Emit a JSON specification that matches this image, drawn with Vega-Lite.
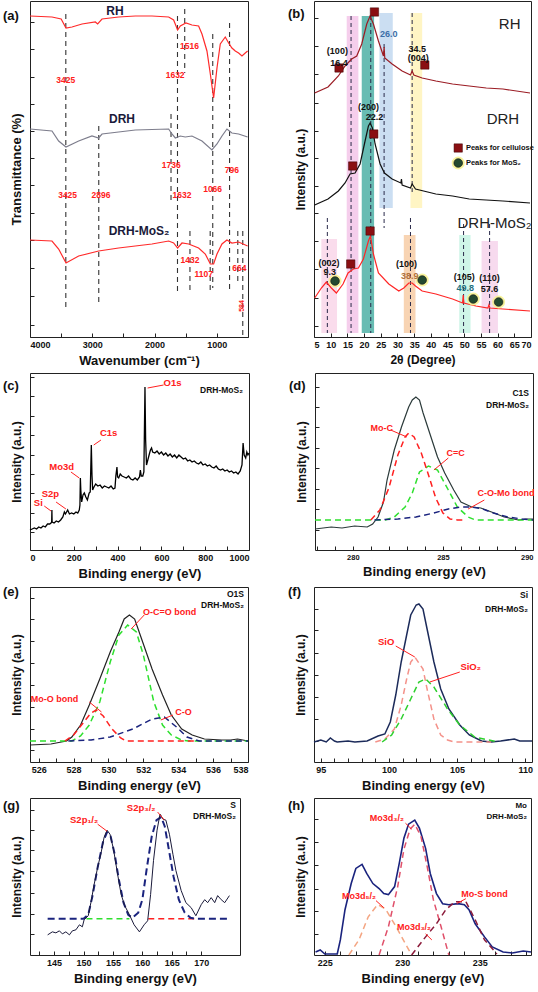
{
"$schema":"https://vega.github.io/schema/vega-lite/v6.json",
"padding":{"left":2,"top":0,"right":0,"bottom":0},
"background":"white",
"config":{
 "font":"Liberation Sans",
 "view":{"stroke":"#222","strokeWidth":1},
 "axis":{"grid":false,"domain":false,"tickSize":-4,"tickColor":"#222","labelFont":"Liberation Sans","labelFontWeight":"bold","labelFontSize":9,"labelColor":"#111","titleFont":"Liberation Sans","titleFontWeight":"bold","titleFontSize":13,"titleColor":"#111","labelPadding":7,"titlePadding":5},
 "axisY":{"labels":false,"titlePadding":6,"titleFontSize":12},
 "title":{"font":"Liberation Sans","fontWeight":"bold","fontSize":13,"anchor":"start","frame":"group","color":"#111"}
},
"datasets":{
 "a_ln":[
  {"x":4000,"y":321,"s":"RH"},{"x":3647,"y":320,"s":"RH"},{"x":3500,"y":318,"s":"RH"},{"x":3422,"y":309,"s":"RH"},{"x":3326,"y":310,"s":"RH"},{"x":3165,"y":313,"s":"RH"},{"x":2951,"y":315,"s":"RH"},{"x":2914,"y":313,"s":"RH"},{"x":2844,"y":318,"s":"RH"},{"x":2577,"y":320,"s":"RH"},{"x":2309,"y":321,"s":"RH"},{"x":2042,"y":321,"s":"RH"},{"x":1774,"y":320,"s":"RH"},{"x":1694,"y":317,"s":"RH"},{"x":1630,"y":307,"s":"RH"},{"x":1587,"y":311,"s":"RH"},{"x":1496,"y":314,"s":"RH"},{"x":1400,"y":312,"s":"RH"},{"x":1293,"y":311,"s":"RH"},{"x":1239,"y":303,"s":"RH"},{"x":1159,"y":286,"s":"RH"},{"x":1105,"y":263,"s":"RH"},{"x":1052,"y":239,"s":"RH"},{"x":998,"y":269,"s":"RH"},{"x":945,"y":293,"s":"RH"},{"x":865,"y":300,"s":"RH"},{"x":811,"y":294,"s":"RH"},{"x":758,"y":289,"s":"RH"},{"x":704,"y":286,"s":"RH"},{"x":651,"y":284,"s":"RH"},{"x":597,"y":281,"s":"RH"},{"x":544,"y":284,"s":"RH"},{"x":506,"y":286,"s":"RH"},
  {"x":4000,"y":208,"s":"DRH"},{"x":3647,"y":206,"s":"DRH"},{"x":3540,"y":196,"s":"DRH"},{"x":3422,"y":190,"s":"DRH"},{"x":3219,"y":196,"s":"DRH"},{"x":3005,"y":201,"s":"DRH"},{"x":2898,"y":199,"s":"DRH"},{"x":2844,"y":203,"s":"DRH"},{"x":2309,"y":207,"s":"DRH"},{"x":1774,"y":208,"s":"DRH"},{"x":1721,"y":203,"s":"DRH"},{"x":1667,"y":199,"s":"DRH"},{"x":1587,"y":201,"s":"DRH"},{"x":1507,"y":200,"s":"DRH"},{"x":1400,"y":201,"s":"DRH"},{"x":1239,"y":196,"s":"DRH"},{"x":1079,"y":187,"s":"DRH"},{"x":998,"y":193,"s":"DRH"},{"x":918,"y":201,"s":"DRH"},{"x":838,"y":208,"s":"DRH"},{"x":758,"y":204,"s":"DRH"},{"x":651,"y":203,"s":"DRH"},{"x":506,"y":200,"s":"DRH"},
  {"x":4000,"y":97,"s":"M"},{"x":3647,"y":96,"s":"M"},{"x":3540,"y":88,"s":"M"},{"x":3422,"y":74,"s":"M"},{"x":3219,"y":81,"s":"M"},{"x":2898,"y":86,"s":"M"},{"x":2577,"y":89,"s":"M"},{"x":2042,"y":93,"s":"M"},{"x":1774,"y":96,"s":"M"},{"x":1694,"y":94,"s":"M"},{"x":1630,"y":89,"s":"M"},{"x":1560,"y":94,"s":"M"},{"x":1453,"y":93,"s":"M"},{"x":1293,"y":89,"s":"M"},{"x":1186,"y":83,"s":"M"},{"x":1105,"y":73,"s":"M"},{"x":1052,"y":73,"s":"M"},{"x":998,"y":83,"s":"M"},{"x":918,"y":93,"s":"M"},{"x":838,"y":97,"s":"M"},{"x":758,"y":94,"s":"M"},{"x":651,"y":95,"s":"M"},{"x":506,"y":91,"s":"M"}
 ],
 "a_vl":[
  {"x":3425,"y":323,"y2":29},{"x":2896,"y":211,"y2":33},{"x":1736,"y":223,"y2":136},{"x":1632,"y":321,"y2":43},{"x":1516,"y":328,"y2":264},{"x":1432,"y":106,"y2":47},{"x":1107,"y":106,"y2":43},{"x":1066,"y":303,"y2":49},{"x":796,"y":314,"y2":46},{"x":664,"y":106,"y2":53},{"x":584,"y":106,"y2":0}
 ],
 "a_tx":[
  {"x":3425,"y":257,"t":"3425","k":"pk"},{"x":1440,"y":291,"t":"1516","k":"pk"},{"x":1670,"y":262,"t":"1632","k":"pk"},{"x":3396,"y":142,"t":"3425","k":"pk"},{"x":2860,"y":142,"t":"2896","k":"pk"},{"x":1731,"y":172,"t":"1736","k":"pk"},{"x":1560,"y":142,"t":"1632","k":"pk"},{"x":1068,"y":148,"t":"1066","k":"pk"},{"x":758,"y":167,"t":"796","k":"pk"},{"x":1432,"y":77,"t":"1432","k":"pk"},{"x":1212,"y":63,"t":"1107","k":"pk"},{"x":640,"y":69,"t":"664","k":"pk"},{"x":600,"y":31,"t":"584","k":"rot"},
  {"x":2637,"y":326,"t":"RH","k":"ser"},{"x":2523,"y":218,"t":"DRH","k":"ser"},{"x":2250,"y":106,"t":"DRH-MoS₂","k":"ser"}
 ],
 "b_ln":[
  {"x":5.2,"y":244,"s":"RH"},{"x":9.2,"y":250,"s":"RH"},{"x":12.3,"y":261,"s":"RH"},{"x":14.3,"y":271,"s":"RH"},{"x":16.3,"y":278,"s":"RH"},{"x":17.8,"y":281,"s":"RH"},{"x":19.3,"y":293,"s":"RH"},{"x":20.8,"y":313,"s":"RH"},{"x":21.8,"y":321,"s":"RH"},{"x":22.8,"y":313,"s":"RH"},{"x":24.3,"y":296,"s":"RH"},{"x":25.8,"y":281,"s":"RH"},{"x":26.0,"y":290,"s":"RH"},{"x":26.2,"y":279,"s":"RH"},{"x":28.4,"y":273,"s":"RH"},{"x":31.4,"y":266,"s":"RH"},{"x":33.9,"y":262,"s":"RH"},{"x":34.4,"y":266,"s":"RH"},{"x":34.9,"y":262,"s":"RH"},{"x":37.4,"y":259,"s":"RH"},{"x":41.5,"y":256,"s":"RH"},{"x":46.5,"y":253,"s":"RH"},{"x":51.5,"y":251,"s":"RH"},{"x":56.6,"y":249,"s":"RH"},{"x":61.6,"y":248,"s":"RH"},{"x":69.7,"y":244,"s":"RH"},
  {"x":5.2,"y":132,"s":"DRH"},{"x":9.2,"y":138,"s":"DRH"},{"x":12.3,"y":146,"s":"DRH"},{"x":14.3,"y":154,"s":"DRH"},{"x":15.8,"y":163,"s":"DRH"},{"x":17.3,"y":164,"s":"DRH"},{"x":18.8,"y":173,"s":"DRH"},{"x":20.3,"y":196,"s":"DRH"},{"x":21.3,"y":211,"s":"DRH"},{"x":21.8,"y":214,"s":"DRH"},{"x":22.5,"y":209,"s":"DRH"},{"x":23.3,"y":193,"s":"DRH"},{"x":24.8,"y":173,"s":"DRH"},{"x":26.1,"y":164,"s":"DRH"},{"x":28.4,"y":158,"s":"DRH"},{"x":31.0,"y":154,"s":"DRH"},{"x":31.2,"y":158,"s":"DRH"},{"x":31.4,"y":152,"s":"DRH"},{"x":33.9,"y":149,"s":"DRH"},{"x":34.4,"y":153,"s":"DRH"},{"x":35.4,"y":148,"s":"DRH"},{"x":41.5,"y":143,"s":"DRH"},{"x":46.5,"y":141,"s":"DRH"},{"x":51.5,"y":138,"s":"DRH"},{"x":61.6,"y":136,"s":"DRH"},{"x":69.7,"y":134,"s":"DRH"},
  {"x":5.2,"y":39,"s":"M"},{"x":7.2,"y":49,"s":"M"},{"x":8.7,"y":55,"s":"M"},{"x":10.2,"y":49,"s":"M"},{"x":11.7,"y":44,"s":"M"},{"x":13.7,"y":53,"s":"M"},{"x":15.2,"y":64,"s":"M"},{"x":16.8,"y":68,"s":"M"},{"x":18.3,"y":69,"s":"M"},{"x":19.8,"y":78,"s":"M"},{"x":21.3,"y":96,"s":"M"},{"x":21.9,"y":101,"s":"M"},{"x":22.8,"y":83,"s":"M"},{"x":24.3,"y":64,"s":"M"},{"x":27.4,"y":53,"s":"M"},{"x":30.4,"y":46,"s":"M"},{"x":31.9,"y":49,"s":"M"},{"x":33.4,"y":54,"s":"M"},{"x":34.4,"y":54,"s":"M"},{"x":35.4,"y":51,"s":"M"},{"x":37.4,"y":46,"s":"M"},{"x":41.5,"y":43,"s":"M"},{"x":46.5,"y":38,"s":"M"},{"x":49.5,"y":34,"s":"M"},{"x":49.7,"y":42,"s":"M"},{"x":49.9,"y":34,"s":"M"},{"x":53.5,"y":31,"s":"M"},{"x":57.1,"y":29,"s":"M"},{"x":57.4,"y":32,"s":"M"},{"x":57.7,"y":29,"s":"M"},{"x":61.6,"y":28,"s":"M"},{"x":69.7,"y":26,"s":"M"}
 ],
 "b_band":[
  {"x":14.8,"x2":18.3,"y":321,"y2":4,"b":"p1"},{"x":19.3,"x2":23.0,"y":321,"y2":4,"b":"teal"},{"x":24.6,"x2":28.6,"y":324,"y2":129,"b":"blue"},{"x":33.9,"x2":37.4,"y":324,"y2":129,"b":"yel"},{"x":7.2,"x2":11.9,"y":98,"y2":4,"b":"p2"},{"x":31.9,"x2":35.4,"y":102,"y2":4,"b":"peach"},{"x":48.5,"x2":51.9,"y":102,"y2":4,"b":"mint"},{"x":55.2,"x2":60.1,"y":96,"y2":4,"b":"p3"}
 ],
 "b_vl":[
  {"x":16.1,"y":321,"y2":4},{"x":22.0,"y":321,"y2":4},{"x":26.0,"y":293,"y2":109},{"x":34.4,"y":324,"y2":143},{"x":33.9,"y":119,"y2":4},{"x":9.0,"y":119,"y2":4},{"x":49.8,"y":113,"y2":4},{"x":57.6,"y":113,"y2":4}
 ],
 "b_sq":[{"x":23.1,"y":325},{"x":12.5,"y":269},{"x":38.2,"y":272},{"x":22.9,"y":203},{"x":16.6,"y":171},{"x":21.8,"y":106},{"x":16.0,"y":73},{"x":48.2,"y":189}],
 "b_ci":[{"x":11.3,"y":56},{"x":37.4,"y":57},{"x":52.7,"y":38},{"x":60.3,"y":35},{"x":48.2,"y":174}],
 "b_tx":[
  {"x":12.0,"y":286,"t":"(100)","k":"lab"},{"x":12.5,"y":274,"t":"16.4","k":"lab"},{"x":27.4,"y":303,"t":"26.0","k":"blue"},{"x":35.9,"y":288,"t":"34.5","k":"lab"},{"x":36.2,"y":279,"t":"(004)","k":"lab"},{"x":21.3,"y":230,"t":"(200)","k":"lab"},{"x":23.1,"y":220,"t":"22.2","k":"lab"},{"x":9.5,"y":74,"t":"(002)","k":"lab"},{"x":9.7,"y":65,"t":"9.3","k":"lab"},{"x":32.7,"y":73,"t":"(100)","k":"lab"},{"x":33.7,"y":61,"t":"38.9","k":"brown"},{"x":50.0,"y":60,"t":"(105)","k":"lab"},{"x":50.3,"y":49,"t":"49.8","k":"teal"},{"x":57.6,"y":59,"t":"(110)","k":"lab"},{"x":57.6,"y":48,"t":"57.6","k":"lab"},
  {"x":63.6,"y":313,"t":"RH","k":"ser"},{"x":61.6,"y":218,"t":"DRH","k":"ser"},{"x":59.1,"y":114,"t":"DRH-MoS₂","k":"ser"},
  {"x":50.5,"y":189,"t":"Peaks for cellulose","k":"leg"},{"x":50.5,"y":174,"t":"Peaks for MoS₂","k":"leg"}
 ],
 "c_ln":[
  {"x":0,"y":20},{"x":10,"y":21},{"x":20,"y":22},{"x":30,"y":21},{"x":40,"y":23},{"x":50,"y":22},{"x":60,"y":24},{"x":70,"y":23},{"x":80,"y":26},{"x":90,"y":26},{"x":96,"y":27},{"x":99,"y":28},{"x":100,"y":40},{"x":101,"y":28},{"x":110,"y":27},{"x":120,"y":29},{"x":130,"y":28},{"x":140,"y":30},{"x":150,"y":33},{"x":157,"y":38},{"x":162,"y":36},{"x":172,"y":40},{"x":180,"y":36},{"x":190,"y":37},{"x":200,"y":36},{"x":210,"y":38},{"x":218,"y":37},{"x":225,"y":40},{"x":228,"y":45},{"x":230,"y":72},{"x":232,"y":60},{"x":236,"y":48},{"x":242,"y":55},{"x":248,"y":57},{"x":255,"y":53},{"x":262,"y":50},{"x":270,"y":57},{"x":275,"y":58},{"x":280,"y":105},{"x":283,"y":75},{"x":286,"y":60},{"x":292,"y":63},{"x":300,"y":66},{"x":310,"y":64},{"x":320,"y":65},{"x":330,"y":62},{"x":340,"y":64},{"x":350,"y":63},{"x":360,"y":62},{"x":370,"y":64},{"x":380,"y":61},{"x":388,"y":62},{"x":392,"y":74},{"x":397,"y":83},{"x":400,"y":73},{"x":405,"y":72},{"x":412,"y":76},{"x":420,"y":74},{"x":430,"y":73},{"x":440,"y":72},{"x":450,"y":74},{"x":460,"y":71},{"x":470,"y":70},{"x":480,"y":72},{"x":490,"y":70},{"x":500,"y":73},{"x":504,"y":80},{"x":508,"y":74},{"x":515,"y":74},{"x":520,"y":78},{"x":525,"y":163},{"x":528,"y":110},{"x":532,"y":85},{"x":538,"y":90},{"x":545,"y":96},{"x":550,"y":100},{"x":555,"y":102},{"x":560,"y":98},{"x":570,"y":97},{"x":580,"y":99},{"x":590,"y":96},{"x":600,"y":98},{"x":610,"y":95},{"x":620,"y":97},{"x":630,"y":94},{"x":640,"y":96},{"x":650,"y":93},{"x":660,"y":95},{"x":670,"y":92},{"x":680,"y":95},{"x":690,"y":93},{"x":700,"y":91},{"x":710,"y":92},{"x":720,"y":89},{"x":730,"y":90},{"x":740,"y":88},{"x":750,"y":89},{"x":760,"y":87},{"x":770,"y":86},{"x":780,"y":88},{"x":790,"y":85},{"x":800,"y":86},{"x":810,"y":84},{"x":820,"y":85},{"x":830,"y":83},{"x":840,"y":82},{"x":850,"y":84},{"x":860,"y":81},{"x":870,"y":80},{"x":880,"y":81},{"x":890,"y":79},{"x":900,"y":80},{"x":910,"y":78},{"x":920,"y":79},{"x":930,"y":77},{"x":940,"y":78},{"x":950,"y":76},{"x":960,"y":79},{"x":968,"y":85},{"x":973,"y":107},{"x":978,"y":95},{"x":985,"y":92},{"x":990,"y":98},{"x":995,"y":95},{"x":1000,"y":97}
 ],
 "c_tx":[{"x":651,"y":167,"t":"O1s","k":"pk"},{"x":359,"y":117,"t":"C1s","k":"pk"},{"x":145,"y":83,"t":"Mo3d","k":"pk"},{"x":93,"y":56,"t":"S2p","k":"pk"},{"x":38,"y":47,"t":"Si","k":"pk"},{"x":1000,"y":160,"t":"DRH-MoS₂","k":"cn"}],
 "c_ar":[{"x":610,"y":165,"x2":537,"y2":162},{"x":324,"y":110,"x2":291,"y2":105},{"x":187,"y":78,"x2":225,"y2":72},{"x":119,"y":48,"x2":164,"y2":41},{"x":65,"y":44,"x2":96,"y2":39}],
 "d_ln":[
  {"x":277.9,"y":21,"s":"env"},{"x":278.8,"y":23,"s":"env"},{"x":279.4,"y":22,"s":"env"},{"x":280.1,"y":24,"s":"env"},{"x":280.8,"y":23,"s":"env"},{"x":281.1,"y":26,"s":"env"},{"x":281.4,"y":33,"s":"env"},{"x":281.7,"y":48,"s":"env"},{"x":281.9,"y":70,"s":"env"},{"x":282.3,"y":100,"s":"env"},{"x":282.7,"y":123,"s":"env"},{"x":283.1,"y":143,"s":"env"},{"x":283.3,"y":150,"s":"env"},{"x":283.5,"y":153,"s":"env"},{"x":283.7,"y":150,"s":"env"},{"x":283.9,"y":137,"s":"env"},{"x":284.3,"y":115,"s":"env"},{"x":284.7,"y":93,"s":"env"},{"x":285.1,"y":77,"s":"env"},{"x":285.6,"y":60,"s":"env"},{"x":286.0,"y":48,"s":"env"},{"x":286.6,"y":43,"s":"env"},{"x":287.1,"y":42,"s":"env"},{"x":287.7,"y":38,"s":"env"},{"x":288.4,"y":33,"s":"env"},{"x":289.2,"y":30,"s":"env"},{"x":289.6,"y":31,"s":"env"},{"x":290,"y":31,"s":"env"},
  {"x":277.9,"y":30,"s":"cc"},{"x":281.8,"y":30,"s":"cc"},{"x":282.3,"y":33,"s":"cc"},{"x":282.9,"y":43,"s":"cc"},{"x":283.3,"y":57,"s":"cc"},{"x":283.7,"y":78,"s":"cc"},{"x":284.2,"y":84,"s":"cc"},{"x":284.7,"y":80,"s":"cc"},{"x":285.3,"y":60,"s":"cc"},{"x":285.8,"y":43,"s":"cc"},{"x":286.4,"y":33,"s":"cc"},{"x":286.8,"y":30,"s":"cc"},{"x":290,"y":30,"s":"cc"},
  {"x":281.0,"y":30,"s":"mo"},{"x":281.5,"y":40,"s":"mo"},{"x":282.0,"y":62,"s":"mo"},{"x":282.5,"y":95,"s":"mo"},{"x":282.9,"y":113,"s":"mo"},{"x":283.1,"y":117,"s":"mo"},{"x":283.4,"y":113,"s":"mo"},{"x":283.8,"y":97,"s":"mo"},{"x":284.2,"y":75,"s":"mo"},{"x":284.6,"y":52,"s":"mo"},{"x":285.0,"y":37,"s":"mo"},{"x":285.4,"y":31,"s":"mo"},{"x":285.8,"y":30,"s":"mo"},{"x":286.3,"y":30,"s":"mo"},
  {"x":281.2,"y":30,"s":"com"},{"x":282.5,"y":31,"s":"com"},{"x":283.5,"y":33,"s":"com"},{"x":284.5,"y":37,"s":"com"},{"x":285.3,"y":41,"s":"com"},{"x":286.0,"y":43,"s":"com"},{"x":286.6,"y":43,"s":"com"},{"x":287.2,"y":41,"s":"com"},{"x":287.8,"y":37,"s":"com"},{"x":288.6,"y":33,"s":"com"},{"x":289.4,"y":31,"s":"com"},{"x":290,"y":30,"s":"com"}
 ],
 "d_tx":[{"x":281.6,"y":122,"t":"Mo-C","k":"pk"},{"x":285.7,"y":97,"t":"C=C","k":"pk"},{"x":288.5,"y":57,"t":"C-O-Mo bond","k":"pk"},{"x":290,"y":157,"t":"C1S","k":"cn"},{"x":290,"y":145,"t":"DRH-MoS₂","k":"cn"}],
 "d_ar":[{"x":282.1,"y":120,"x2":283.0,"y2":113},{"x":285.3,"y":92,"x2":284.5,"y2":80},{"x":287.3,"y":50,"x2":286.4,"y2":41}],
 "e_ln":[
  {"x":525.5,"y":17,"s":"env"},{"x":526.7,"y":18,"s":"env"},{"x":527.6,"y":21,"s":"env"},{"x":527.9,"y":25,"s":"env"},{"x":528.4,"y":37,"s":"env"},{"x":528.9,"y":57,"s":"env"},{"x":529.5,"y":83,"s":"env"},{"x":530.1,"y":110,"s":"env"},{"x":530.6,"y":130,"s":"env"},{"x":530.9,"y":143,"s":"env"},{"x":531.2,"y":147,"s":"env"},{"x":531.5,"y":143,"s":"env"},{"x":531.9,"y":123,"s":"env"},{"x":532.5,"y":93,"s":"env"},{"x":533.1,"y":67,"s":"env"},{"x":533.6,"y":47,"s":"env"},{"x":534.2,"y":33,"s":"env"},{"x":534.8,"y":27,"s":"env"},{"x":535.5,"y":23,"s":"env"},{"x":536.5,"y":22,"s":"env"},{"x":537.0,"y":22,"s":"env"},{"x":537.4,"y":23,"s":"env"},{"x":538,"y":21,"s":"env"},
  {"x":525.5,"y":21,"s":"oco"},{"x":527.9,"y":21,"s":"oco"},{"x":528.4,"y":26,"s":"oco"},{"x":528.9,"y":37,"s":"oco"},{"x":529.5,"y":60,"s":"oco"},{"x":530.1,"y":100,"s":"oco"},{"x":530.6,"y":127,"s":"oco"},{"x":531.1,"y":137,"s":"oco"},{"x":531.6,"y":130,"s":"oco"},{"x":532.0,"y":107,"s":"oco"},{"x":532.6,"y":60,"s":"oco"},{"x":533.1,"y":37,"s":"oco"},{"x":533.6,"y":27,"s":"oco"},{"x":534.2,"y":22,"s":"oco"},{"x":534.6,"y":21,"s":"oco"},{"x":538,"y":21,"s":"oco"},
  {"x":527.5,"y":21,"s":"moo"},{"x":528.0,"y":27,"s":"moo"},{"x":528.5,"y":38,"s":"moo"},{"x":529.0,"y":49,"s":"moo"},{"x":529.3,"y":52,"s":"moo"},{"x":529.7,"y":46,"s":"moo"},{"x":530.2,"y":33,"s":"moo"},{"x":530.7,"y":24,"s":"moo"},{"x":531.0,"y":21,"s":"moo"},{"x":535,"y":21,"s":"moo"},
  {"x":527.7,"y":21,"s":"co"},{"x":529.0,"y":22,"s":"co"},{"x":530.1,"y":25,"s":"co"},{"x":531.4,"y":33,"s":"co"},{"x":532.5,"y":43,"s":"co"},{"x":533.2,"y":45,"s":"co"},{"x":533.9,"y":35,"s":"co"},{"x":534.5,"y":25,"s":"co"},{"x":535.2,"y":21,"s":"co"},{"x":538,"y":21,"s":"co"}
 ],
 "e_tx":[{"x":533.5,"y":150,"t":"O-C=O bond","k":"pk"},{"x":526.9,"y":63,"t":"Mo-O bond","k":"pk"},{"x":534.3,"y":50,"t":"C-O","k":"pk"},{"x":538,"y":168,"t":"O1S","k":"cn"},{"x":538,"y":157,"t":"DRH-MoS₂","k":"cn"}],
 "e_ar":[{"x":532.05,"y":147,"x2":531.3,"y2":133},{"x":528.9,"y":60,"x2":529.6,"y2":50},{"x":533.7,"y":47,"x2":533.0,"y2":42}],
 "f_ln":[
  {"x":94.5,"y":20,"s":"env"},{"x":95.0,"y":22,"s":"env"},{"x":95.4,"y":20,"s":"env"},{"x":95.7,"y":24,"s":"env"},{"x":96.0,"y":21,"s":"env"},{"x":96.2,"y":20,"s":"env"},{"x":97.0,"y":21,"s":"env"},{"x":97.5,"y":20,"s":"env"},{"x":98.4,"y":21,"s":"env"},{"x":99.2,"y":26,"s":"env"},{"x":99.7,"y":28,"s":"env"},{"x":100.1,"y":40,"s":"env"},{"x":100.5,"y":67,"s":"env"},{"x":100.9,"y":100,"s":"env"},{"x":101.3,"y":127,"s":"env"},{"x":101.6,"y":147,"s":"env"},{"x":102.0,"y":157,"s":"env"},{"x":102.2,"y":158,"s":"env"},{"x":102.5,"y":153,"s":"env"},{"x":102.8,"y":133,"s":"env"},{"x":103.3,"y":100,"s":"env"},{"x":103.8,"y":73,"s":"env"},{"x":104.4,"y":53,"s":"env"},{"x":105.2,"y":37,"s":"env"},{"x":105.9,"y":27,"s":"env"},{"x":106.8,"y":21,"s":"env"},{"x":107.5,"y":20,"s":"env"},{"x":108.2,"y":21,"s":"env"},{"x":109.2,"y":23,"s":"env"},{"x":109.6,"y":21,"s":"env"},{"x":110.0,"y":21,"s":"env"},{"x":110.5,"y":21,"s":"env"},
  {"x":99.0,"y":20,"s":"sio"},{"x":99.7,"y":23,"s":"sio"},{"x":100.4,"y":33,"s":"sio"},{"x":100.9,"y":57,"s":"sio"},{"x":101.3,"y":83,"s":"sio"},{"x":101.6,"y":100,"s":"sio"},{"x":101.9,"y":105,"s":"sio"},{"x":102.5,"y":93,"s":"sio"},{"x":102.8,"y":73,"s":"sio"},{"x":103.3,"y":43,"s":"sio"},{"x":103.8,"y":27,"s":"sio"},{"x":104.3,"y":22,"s":"sio"},{"x":104.8,"y":20,"s":"sio"},{"x":107.5,"y":20,"s":"sio"},
  {"x":99.5,"y":20,"s":"sio2"},{"x":100.2,"y":27,"s":"sio2"},{"x":100.9,"y":43,"s":"sio2"},{"x":101.6,"y":63,"s":"sio2"},{"x":102.2,"y":80,"s":"sio2"},{"x":102.7,"y":83,"s":"sio2"},{"x":103.3,"y":75,"s":"sio2"},{"x":104.3,"y":53,"s":"sio2"},{"x":105.2,"y":37,"s":"sio2"},{"x":106.3,"y":25,"s":"sio2"},{"x":107.3,"y":22,"s":"sio2"},{"x":108,"y":20,"s":"sio2"}
 ],
 "f_tx":[{"x":99.8,"y":120,"t":"SiO","k":"pk"},{"x":106.0,"y":95,"t":"SiO₂","k":"pk"},{"x":110.5,"y":167,"t":"Si","k":"cn"},{"x":110.5,"y":153,"t":"DRH-MoS₂","k":"cn"}],
 "f_ar":[{"x":100.5,"y":116,"x2":101.9,"y2":105},{"x":105.2,"y":90,"x2":103.0,"y2":80}],
 "g_ln":[
  {"x":143.9,"y":20,"s":"env"},{"x":144.7,"y":23,"s":"env"},{"x":145.3,"y":22,"s":"env"},{"x":145.9,"y":24,"s":"env"},{"x":146.4,"y":21,"s":"env"},{"x":147.0,"y":23,"s":"env"},{"x":147.6,"y":20,"s":"env"},{"x":148.1,"y":24,"s":"env"},{"x":148.7,"y":25,"s":"env"},{"x":149.3,"y":30,"s":"env"},{"x":149.8,"y":28,"s":"env"},{"x":150.1,"y":35,"s":"env"},{"x":150.8,"y":39,"s":"env"},{"x":151.25,"y":52,"s":"env"},{"x":151.8,"y":70,"s":"env"},{"x":152.4,"y":87,"s":"env"},{"x":153.0,"y":102,"s":"env"},{"x":153.5,"y":117,"s":"env"},{"x":154.0,"y":124,"s":"env"},{"x":154.5,"y":120,"s":"env"},{"x":155.1,"y":105,"s":"env"},{"x":155.8,"y":80,"s":"env"},{"x":156.4,"y":60,"s":"env"},{"x":157.0,"y":49,"s":"env"},{"x":157.8,"y":40,"s":"env"},{"x":158.6,"y":30,"s":"env"},{"x":159.5,"y":23,"s":"env"},{"x":160.3,"y":30,"s":"env"},{"x":160.9,"y":34,"s":"env"},{"x":161.4,"y":60,"s":"env"},{"x":161.9,"y":94,"s":"env"},{"x":162.5,"y":124,"s":"env"},{"x":163.0,"y":140,"s":"env"},{"x":163.5,"y":135,"s":"env"},{"x":164.0,"y":134,"s":"env"},{"x":164.6,"y":120,"s":"env"},{"x":165.2,"y":100,"s":"env"},{"x":165.7,"y":84,"s":"env"},{"x":166.6,"y":64,"s":"env"},{"x":167.4,"y":52,"s":"env"},{"x":168.3,"y":47,"s":"env"},{"x":169.1,"y":39,"s":"env"},{"x":170.0,"y":50,"s":"env"},{"x":170.6,"y":55,"s":"env"},{"x":171.1,"y":52,"s":"env"},{"x":171.7,"y":57,"s":"env"},{"x":172.3,"y":52,"s":"env"},{"x":172.8,"y":59,"s":"env"},{"x":173.4,"y":55,"s":"env"},{"x":174.0,"y":52,"s":"env"},{"x":174.8,"y":59,"s":"env"},
  {"x":143.9,"y":36,"s":"fit"},{"x":150.0,"y":36,"s":"fit"},{"x":150.8,"y":40,"s":"fit"},{"x":151.5,"y":58,"s":"fit"},{"x":152.4,"y":87,"s":"fit"},{"x":153.3,"y":112,"s":"fit"},{"x":154.0,"y":122,"s":"fit"},{"x":154.6,"y":118,"s":"fit"},{"x":155.3,"y":100,"s":"fit"},{"x":156.0,"y":75,"s":"fit"},{"x":156.8,"y":52,"s":"fit"},{"x":157.6,"y":40,"s":"fit"},{"x":158.3,"y":37,"s":"fit"},{"x":159.3,"y":42,"s":"fit"},{"x":160.0,"y":55,"s":"fit"},{"x":160.8,"y":88,"s":"fit"},{"x":161.6,"y":118,"s":"fit"},{"x":162.4,"y":134,"s":"fit"},{"x":163.2,"y":137,"s":"fit"},{"x":163.8,"y":128,"s":"fit"},{"x":164.5,"y":105,"s":"fit"},{"x":165.3,"y":78,"s":"fit"},{"x":166.2,"y":55,"s":"fit"},{"x":167.2,"y":42,"s":"fit"},{"x":168.2,"y":37,"s":"fit"},{"x":169.1,"y":36,"s":"fit"},{"x":174.8,"y":36,"s":"fit"},
  {"x":150.5,"y":36,"s":"gb"},{"x":157.8,"y":36,"s":"gb"},
  {"x":161.0,"y":36,"s":"rb"},{"x":169.0,"y":36,"s":"rb"}
 ],
 "g_tx":[{"x":150.1,"y":134,"t":"S2p₁/₂","k":"pk"},{"x":159.8,"y":146,"t":"S2p₃/₂","k":"pk"},{"x":176.6,"y":149,"t":"S","k":"cn"},{"x":176.6,"y":138,"t":"DRH-MoS₂","k":"cn"}],
 "g_ar":[{"x":152.4,"y":130,"x2":154.0,"y2":123},{"x":162.6,"y":142,"x2":163.75,"y2":134}],
 "h_ln":[
  {"x":224.4,"y":3,"s":"env"},{"x":224.7,"y":5,"s":"env"},{"x":225.0,"y":1,"s":"env"},{"x":225.5,"y":1,"s":"env"},{"x":225.8,"y":1,"s":"env"},{"x":226.0,"y":15,"s":"env"},{"x":226.3,"y":45,"s":"env"},{"x":226.7,"y":71,"s":"env"},{"x":227.0,"y":86,"s":"env"},{"x":227.4,"y":90,"s":"env"},{"x":227.7,"y":81,"s":"env"},{"x":228.1,"y":71,"s":"env"},{"x":228.5,"y":66,"s":"env"},{"x":228.8,"y":61,"s":"env"},{"x":229.1,"y":60,"s":"env"},{"x":229.5,"y":68,"s":"env"},{"x":229.8,"y":91,"s":"env"},{"x":230.1,"y":116,"s":"env"},{"x":230.4,"y":130,"s":"env"},{"x":230.8,"y":134,"s":"env"},{"x":231.1,"y":126,"s":"env"},{"x":231.5,"y":106,"s":"env"},{"x":231.8,"y":81,"s":"env"},{"x":232.2,"y":61,"s":"env"},{"x":232.6,"y":51,"s":"env"},{"x":233.0,"y":50,"s":"env"},{"x":233.6,"y":51,"s":"env"},{"x":234.0,"y":50,"s":"env"},{"x":234.3,"y":45,"s":"env"},{"x":234.7,"y":31,"s":"env"},{"x":235.3,"y":18,"s":"env"},{"x":235.8,"y":8,"s":"env"},{"x":236.5,"y":3,"s":"env"},{"x":237.1,"y":2,"s":"env"},{"x":237.8,"y":4,"s":"env"},{"x":238.3,"y":3,"s":"env"},
  {"x":226.55,"y":0,"s":"d52"},{"x":227.2,"y":15,"s":"d52"},{"x":227.8,"y":38,"s":"d52"},{"x":228.4,"y":50,"s":"d52"},{"x":228.9,"y":46,"s":"d52"},{"x":229.6,"y":28,"s":"d52"},{"x":230.2,"y":11,"s":"d52"},{"x":230.6,"y":0,"s":"d52"},
  {"x":228.5,"y":0,"s":"d32"},{"x":229.1,"y":28,"s":"d32"},{"x":229.7,"y":68,"s":"d32"},{"x":230.1,"y":105,"s":"d32"},{"x":230.5,"y":125,"s":"d32"},{"x":230.8,"y":130,"s":"d32"},{"x":231.2,"y":118,"s":"d32"},{"x":231.6,"y":88,"s":"d32"},{"x":232.0,"y":55,"s":"d32"},{"x":232.5,"y":28,"s":"d32"},{"x":233.0,"y":0,"s":"d32"},
  {"x":230.6,"y":0,"s":"mos"},{"x":231.5,"y":18,"s":"mos"},{"x":232.2,"y":31,"s":"mos"},{"x":232.8,"y":45,"s":"mos"},{"x":233.4,"y":53,"s":"mos"},{"x":234.1,"y":53,"s":"mos"},{"x":234.7,"y":35,"s":"mos"},{"x":235.3,"y":15,"s":"mos"},{"x":236.1,"y":1,"s":"mos"}
 ],
 "h_tx":[{"x":229.0,"y":136,"t":"Mo3d₃/₂","k":"pk"},{"x":227.2,"y":59,"t":"Mo3d₅/₂","k":"pk"},{"x":230.75,"y":28,"t":"Mo3d₃/₂","k":"pk"},{"x":235.3,"y":61,"t":"Mo-S bond","k":"pk"},{"x":238.3,"y":148,"t":"Mo","k":"cn"},{"x":238.3,"y":137,"t":"DRH-MoS₂","k":"cn"}],
 "h_ar":[{"x":230.2,"y":131,"x2":230.6,"y2":125},{"x":228.3,"y":54,"x2":228.8,"y2":47},{"x":231.5,"y":21,"x2":231.9,"y2":15},{"x":234.1,"y":56,"x2":233.5,"y2":51}]
},
"spacing":4,
"bounds":"full",
"vconcat":[
 {"hconcat":[
  {"width":218,"height":336,
   "title":{"text":"(a)","offset":-22,"dx":-27},
   "encoding":{
    "x":{"field":"x","type":"quantitative","scale":{"domain":[4000,500],"nice":false,"zero":false},"axis":{"title":"Wavenumber (cm⁻¹)","values":[4000,3500,3000,2500,2000,1500,1000,500],"format":"d","labelExpr":"datum.value % 1000 == 0 ? datum.label : ''"}},
    "y":{"field":"y","type":"quantitative","scale":{"domain":[0,336],"nice":false,"zero":false},"axis":{"title":"Transmittance (%)","titleFontSize":13,"values":[12,41,69,97,124,152,179,206,233,260,288,315]}}
   },
   "layer":[
    {"data":{"name":"a_vl"},"mark":{"type":"rule","color":"#333","strokeDash":[5,4],"strokeWidth":1.1},"encoding":{"y2":{"field":"y2"}}},
    {"data":{"name":"a_ln"},"transform":[{"filter":"datum.s=='RH'"}],"mark":{"type":"line","color":"#ff2a2a","strokeWidth":1.2},"encoding":{}},
    {"data":{"name":"a_ln"},"transform":[{"filter":"datum.s=='DRH'"}],"mark":{"type":"line","color":"#7d7d8c","strokeWidth":1.2},"encoding":{}},
    {"data":{"name":"a_ln"},"transform":[{"filter":"datum.s=='M'"}],"mark":{"type":"line","color":"#ff2a2a","strokeWidth":1.2},"encoding":{}},
    {"data":{"name":"a_tx"},"transform":[{"filter":"datum.k=='pk'"}],"mark":{"type":"text","color":"#ff2020","fontWeight":"bold","fontSize":8.5,"baseline":"middle"},"encoding":{"text":{"field":"t"}}},
    {"data":{"name":"a_tx"},"transform":[{"filter":"datum.k=='rot'"}],"mark":{"type":"text","color":"#ff2020","fontWeight":"bold","fontSize":7,"angle":270,"baseline":"middle"},"encoding":{"text":{"field":"t"}}},
    {"data":{"name":"a_tx"},"transform":[{"filter":"datum.k=='ser'"}],"mark":{"type":"text","color":"#1a1a3a","fontWeight":"bold","fontSize":12,"baseline":"middle"},"encoding":{"text":{"field":"t"}}}
   ]},
  {"width":217,"height":336,
   "title":{"text":"(b)","offset":-20,"dx":-26},
   "encoding":{
    "x":{"field":"x","type":"quantitative","scale":{"domain":[5,70],"nice":false,"zero":false},"axis":{"title":"2θ (Degree)","titleFontSize":12,"values":[5,10,15,20,25,30,35,40,45,50,55,60,65,70],"format":"d"}},
    "y":{"field":"y","type":"quantitative","scale":{"domain":[0,336],"nice":false,"zero":false},"axis":{"title":"Intensity (a.u.)","values":[11,39,68,96,124,151,179,206,234,263,291,319]}}
   },
   "layer":[
    {"data":{"name":"b_band"},"mark":{"type":"rect","opacity":0.75},"encoding":{"x2":{"field":"x2"},"y2":{"field":"y2"},"color":{"field":"b","type":"nominal","legend":null,"scale":{"domain":["p1","teal","blue","yel","p2","peach","mint","p3"],"range":["#f2bde6","#35a69a","#b9d3ee","#fff2b0","#f8d0e6","#f6c59a","#bff2e0","#f4cde8"]}}}},
    {"data":{"name":"b_vl"},"mark":{"type":"rule","color":"#2a2a4a","strokeDash":[4,3],"strokeWidth":1},"encoding":{"y2":{"field":"y2"}}},
    {"data":{"name":"b_ln"},"transform":[{"filter":"datum.s=='RH'"}],"mark":{"type":"line","color":"#9b1c24","strokeWidth":1.2},"encoding":{}},
    {"data":{"name":"b_ln"},"transform":[{"filter":"datum.s=='DRH'"}],"mark":{"type":"line","color":"#111111","strokeWidth":1.2},"encoding":{}},
    {"data":{"name":"b_ln"},"transform":[{"filter":"datum.s=='M'"}],"mark":{"type":"line","color":"#ff2626","strokeWidth":1.2},"encoding":{}},
    {"data":{"name":"b_sq"},"mark":{"type":"point","shape":"square","filled":true,"color":"#8a0f12","size":70,"opacity":1,"stroke":"#3a0000","strokeWidth":0.5},"encoding":{}},
    {"data":{"name":"b_ci"},"mark":{"type":"point","shape":"circle","filled":true,"color":"#f6f28c","size":170,"opacity":0.85},"encoding":{}},
    {"data":{"name":"b_ci"},"mark":{"type":"point","shape":"circle","filled":true,"color":"#244a30","size":75,"opacity":1,"stroke":"#111","strokeWidth":0.6},"encoding":{}},
    {"data":{"name":"b_tx"},"transform":[{"filter":"datum.k=='lab'"}],"mark":{"type":"text","color":"#111","fontWeight":"bold","fontSize":9,"baseline":"middle"},"encoding":{"text":{"field":"t"}}},
    {"data":{"name":"b_tx"},"transform":[{"filter":"datum.k=='blue'"}],"mark":{"type":"text","color":"#3b6ea8","fontWeight":"bold","fontSize":9,"baseline":"middle"},"encoding":{"text":{"field":"t"}}},
    {"data":{"name":"b_tx"},"transform":[{"filter":"datum.k=='brown'"}],"mark":{"type":"text","color":"#b0703a","fontWeight":"bold","fontSize":9,"baseline":"middle"},"encoding":{"text":{"field":"t"}}},
    {"data":{"name":"b_tx"},"transform":[{"filter":"datum.k=='teal'"}],"mark":{"type":"text","color":"#1f6f80","fontWeight":"bold","fontSize":9,"baseline":"middle"},"encoding":{"text":{"field":"t"}}},
    {"data":{"name":"b_tx"},"transform":[{"filter":"datum.k=='ser'"}],"mark":{"type":"text","color":"#222","fontSize":15,"baseline":"middle"},"encoding":{"text":{"field":"t"}}},
    {"data":{"name":"b_tx"},"transform":[{"filter":"datum.k=='leg'"}],"mark":{"type":"text","color":"#111","fontWeight":"bold","fontSize":7.5,"align":"left","baseline":"middle"},"encoding":{"text":{"field":"t"}}}
   ]}
 ],"spacing":66,"bounds":"flush"},
 {"hconcat":[
  {"width":219,"height":177,
   "title":{"text":"(c)","offset":-20,"dx":-27},
   "encoding":{
    "x":{"field":"x","type":"quantitative","scale":{"domain":[0,1000],"nice":false,"zero":false},"axis":{"title":"Binding energy (eV)","values":[0,100,200,300,400,500,600,700,800,900,1000],"format":"d","labelExpr":"datum.value % 200 == 0 ? datum.label : ''"}},
    "y":{"field":"y","type":"quantitative","scale":{"domain":[0,177],"nice":false,"zero":false},"axis":{"title":"Intensity (a.u.)","values":[18,37,57,76,95,115,134,154,173]}}
   },
   "layer":[
    {"data":{"name":"c_ln"},"mark":{"type":"line","color":"#000","strokeWidth":1.3},"encoding":{}},
    {"data":{"name":"c_ar"},"mark":{"type":"rule","color":"#ff2020","strokeWidth":1},"encoding":{"x2":{"field":"x2"},"y2":{"field":"y2"}}},
    {"data":{"name":"c_tx"},"transform":[{"filter":"datum.k=='pk'"}],"mark":{"type":"text","color":"#ff2020","fontWeight":"bold","fontSize":9.5,"baseline":"middle"},"encoding":{"text":{"field":"t"}}},
    {"data":{"name":"c_tx"},"transform":[{"filter":"datum.k=='cn'"}],"mark":{"type":"text","color":"#111","fontWeight":"bold","fontSize":8.5,"align":"right","dx":-6,"baseline":"middle"},"encoding":{"text":{"field":"t"}}}
   ]},
  {"width":218,"height":177,
   "title":{"text":"(d)","offset":-20,"dx":-26},
   "encoding":{
    "x":{"field":"x","type":"quantitative","scale":{"domain":[277.9,290],"nice":false,"zero":false},"axis":{"title":"Binding energy (eV)","labelFontSize":7.5,"values":[278,279,280,281,282,283,284,285,286,287,288,289,290],"format":"d","labelExpr":"datum.value % 5 == 0 ? datum.label : ''"}},
    "y":{"field":"y","type":"quantitative","scale":{"domain":[0,177],"nice":false,"zero":false},"axis":{"title":"Intensity (a.u.)","values":[20,41,61,82,102,123,143,163]}}
   },
   "layer":[
    {"data":{"name":"d_ln"},"transform":[{"filter":"datum.s=='env'"}],"mark":{"type":"line","color":"#2b3a3a","strokeWidth":1.2},"encoding":{}},
    {"data":{"name":"d_ln"},"transform":[{"filter":"datum.s=='cc'"}],"mark":{"type":"line","color":"#2ee02e","strokeWidth":1.5,"strokeDash":[6,4]},"encoding":{}},
    {"data":{"name":"d_ln"},"transform":[{"filter":"datum.s=='mo'"}],"mark":{"type":"line","color":"#ff2020","strokeWidth":1.5,"strokeDash":[6,4]},"encoding":{}},
    {"data":{"name":"d_ln"},"transform":[{"filter":"datum.s=='com'"}],"mark":{"type":"line","color":"#1a237e","strokeWidth":1.5,"strokeDash":[6,4]},"encoding":{}},
    {"data":{"name":"d_ar"},"mark":{"type":"rule","color":"#ff2020","strokeWidth":1},"encoding":{"x2":{"field":"x2"},"y2":{"field":"y2"}}},
    {"data":{"name":"d_tx"},"transform":[{"filter":"datum.k=='pk'"}],"mark":{"type":"text","color":"#ff2020","fontWeight":"bold","fontSize":9,"baseline":"middle"},"encoding":{"text":{"field":"t"}}},
    {"data":{"name":"d_tx"},"transform":[{"filter":"datum.k=='cn'"}],"mark":{"type":"text","color":"#111","fontWeight":"bold","fontSize":8.5,"align":"right","dx":-4,"baseline":"middle"},"encoding":{"text":{"field":"t"}}}
   ]}
 ],"spacing":66,"bounds":"flush"},
 {"hconcat":[
  {"width":218,"height":175,
   "title":{"text":"(e)","offset":-12,"dx":-27},
   "encoding":{
    "x":{"field":"x","type":"quantitative","scale":{"domain":[525.5,538],"nice":false,"zero":false},"axis":{"title":"Binding energy (eV)","values":[526,527,528,529,530,531,532,533,534,535,536,537,538],"format":"d","labelExpr":"datum.value % 2 == 0 ? datum.label : ''"}},
    "y":{"field":"y","type":"quantitative","scale":{"domain":[0,175],"nice":false,"zero":false},"axis":{"title":"Intensity (a.u.)","values":[12,33,55,77,99,121,143,164]}}
   },
   "layer":[
    {"data":{"name":"e_ln"},"transform":[{"filter":"datum.s=='env'"}],"mark":{"type":"line","color":"#222","strokeWidth":1.2},"encoding":{}},
    {"data":{"name":"e_ln"},"transform":[{"filter":"datum.s=='oco'"}],"mark":{"type":"line","color":"#2ee02e","strokeWidth":1.5,"strokeDash":[6,4]},"encoding":{}},
    {"data":{"name":"e_ln"},"transform":[{"filter":"datum.s=='moo'"}],"mark":{"type":"line","color":"#ff2020","strokeWidth":1.5,"strokeDash":[6,4]},"encoding":{}},
    {"data":{"name":"e_ln"},"transform":[{"filter":"datum.s=='co'"}],"mark":{"type":"line","color":"#1a237e","strokeWidth":1.5,"strokeDash":[6,4]},"encoding":{}},
    {"data":{"name":"e_ar"},"mark":{"type":"rule","color":"#ff2020","strokeWidth":1},"encoding":{"x2":{"field":"x2"},"y2":{"field":"y2"}}},
    {"data":{"name":"e_tx"},"transform":[{"filter":"datum.k=='pk'"}],"mark":{"type":"text","color":"#ff2020","fontWeight":"bold","fontSize":9,"baseline":"middle"},"encoding":{"text":{"field":"t"}}},
    {"data":{"name":"e_tx"},"transform":[{"filter":"datum.k=='cn'"}],"mark":{"type":"text","color":"#111","fontWeight":"bold","fontSize":8.5,"align":"right","dx":-4,"baseline":"middle"},"encoding":{"text":{"field":"t"}}}
   ]},
  {"width":218,"height":175,
   "title":{"text":"(f)","offset":-12,"dx":-26},
   "encoding":{
    "x":{"field":"x","type":"quantitative","scale":{"domain":[94.5,110.5],"nice":false,"zero":false},"axis":{"title":"Binding energy (eV)","values":[95,96,97,98,99,100,101,102,103,104,105,106,107,108,109,110],"format":"d","labelExpr":"datum.value % 5 == 0 ? datum.label : ''"}},
    "y":{"field":"y","type":"quantitative","scale":{"domain":[0,175],"nice":false,"zero":false},"axis":{"title":"Intensity (a.u.)","values":[21,43,65,87,109,132,153]}}
   },
   "layer":[
    {"data":{"name":"f_ln"},"transform":[{"filter":"datum.s=='env'"}],"mark":{"type":"line","color":"#1c2b5a","strokeWidth":1.5},"encoding":{}},
    {"data":{"name":"f_ln"},"transform":[{"filter":"datum.s=='sio'"}],"mark":{"type":"line","color":"#f4928a","strokeWidth":1.5,"strokeDash":[6,4]},"encoding":{}},
    {"data":{"name":"f_ln"},"transform":[{"filter":"datum.s=='sio2'"}],"mark":{"type":"line","color":"#2ed02e","strokeWidth":1.5,"strokeDash":[6,4]},"encoding":{}},
    {"data":{"name":"f_ar"},"mark":{"type":"rule","color":"#ff2020","strokeWidth":1},"encoding":{"x2":{"field":"x2"},"y2":{"field":"y2"}}},
    {"data":{"name":"f_tx"},"transform":[{"filter":"datum.k=='pk'"}],"mark":{"type":"text","color":"#ff2020","fontWeight":"bold","fontSize":9.5,"baseline":"middle"},"encoding":{"text":{"field":"t"}}},
    {"data":{"name":"f_tx"},"transform":[{"filter":"datum.k=='cn'"}],"mark":{"type":"text","color":"#111","fontWeight":"bold","fontSize":8.5,"align":"right","dx":-4,"baseline":"middle"},"encoding":{"text":{"field":"t"}}}
   ]}
 ],"spacing":66,"bounds":"flush"},
 {"hconcat":[
  {"width":210,"height":157,
   "title":{"text":"(g)","offset":-15,"dx":-27},
   "encoding":{
    "x":{"field":"x","type":"quantitative","scale":{"domain":[140.9,176.6],"nice":false,"zero":false},"axis":{"title":"Binding energy (eV)","values":[142.5,145,147.5,150,152.5,155,157.5,160,162.5,165,167.5,170],"format":"d","labelExpr":"datum.value % 5 == 0 ? datum.label : ''"}},
    "y":{"field":"y","type":"quantitative","scale":{"domain":[0,156],"nice":false,"zero":false},"axis":{"title":"Intensity (a.u.)","values":[21,41,62,83,104,124,144]}}
   },
   "layer":[
    {"data":{"name":"g_ln"},"transform":[{"filter":"datum.s=='gb'"}],"mark":{"type":"line","color":"#2ee02e","strokeWidth":1.5,"strokeDash":[6,4]},"encoding":{}},
    {"data":{"name":"g_ln"},"transform":[{"filter":"datum.s=='rb'"}],"mark":{"type":"line","color":"#ff2020","strokeWidth":1.5,"strokeDash":[6,4]},"encoding":{}},
    {"data":{"name":"g_ln"},"transform":[{"filter":"datum.s=='fit'"}],"mark":{"type":"line","color":"#1a237e","strokeWidth":2,"strokeDash":[7,4]},"encoding":{}},
    {"data":{"name":"g_ln"},"transform":[{"filter":"datum.s=='env'"}],"mark":{"type":"line","color":"#1a1a3a","strokeWidth":1},"encoding":{}},
    {"data":{"name":"g_ar"},"mark":{"type":"rule","color":"#ff2020","strokeWidth":1},"encoding":{"x2":{"field":"x2"},"y2":{"field":"y2"}}},
    {"data":{"name":"g_tx"},"transform":[{"filter":"datum.k=='pk'"}],"mark":{"type":"text","color":"#ff2020","fontWeight":"bold","fontSize":9.5,"baseline":"middle"},"encoding":{"text":{"field":"t"}}},
    {"data":{"name":"g_tx"},"transform":[{"filter":"datum.k=='cn'"}],"mark":{"type":"text","color":"#111","fontWeight":"bold","fontSize":8.5,"align":"right","dx":-4,"baseline":"middle"},"encoding":{"text":{"field":"t"}}}
   ]},
  {"width":217,"height":157,
   "title":{"text":"(h)","offset":-15,"dx":-26},
   "encoding":{
    "x":{"field":"x","type":"quantitative","scale":{"domain":[224.3,238.3],"nice":false,"zero":false},"axis":{"title":"Binding energy (eV)","values":[225,226,227,228,229,230,231,232,233,234,235,236,237,238],"format":"d","labelExpr":"datum.value % 5 == 0 ? datum.label : ''"}},
    "y":{"field":"y","type":"quantitative","scale":{"domain":[0,156],"nice":false,"zero":false},"axis":{"title":"Intensity (a.u.)","values":[21,44,66,89,112,135]}}
   },
   "layer":[
    {"data":{"name":"h_ln"},"transform":[{"filter":"datum.s=='env'"}],"mark":{"type":"line","color":"#1a237e","strokeWidth":1.6},"encoding":{}},
    {"data":{"name":"h_ln"},"transform":[{"filter":"datum.s=='d52'"}],"mark":{"type":"line","color":"#f4a582","strokeWidth":1.5,"strokeDash":[6,4]},"encoding":{}},
    {"data":{"name":"h_ln"},"transform":[{"filter":"datum.s=='d32'"}],"mark":{"type":"line","color":"#e0506a","strokeWidth":1.5,"strokeDash":[6,4]},"encoding":{}},
    {"data":{"name":"h_ln"},"transform":[{"filter":"datum.s=='mos'"}],"mark":{"type":"line","color":"#8b1a3a","strokeWidth":1.5,"strokeDash":[6,4]},"encoding":{}},
    {"data":{"name":"h_ar"},"mark":{"type":"rule","color":"#ff2020","strokeWidth":1},"encoding":{"x2":{"field":"x2"},"y2":{"field":"y2"}}},
    {"data":{"name":"h_tx"},"transform":[{"filter":"datum.k=='pk'"}],"mark":{"type":"text","color":"#ff2020","fontWeight":"bold","fontSize":9,"baseline":"middle"},"encoding":{"text":{"field":"t"}}},
    {"data":{"name":"h_tx"},"transform":[{"filter":"datum.k=='cn'"}],"mark":{"type":"text","color":"#111","fontWeight":"bold","fontSize":8,"align":"right","dx":-4,"baseline":"middle"},"encoding":{"text":{"field":"t"}}}
   ]}
 ],"spacing":74,"bounds":"flush"}
]
}
